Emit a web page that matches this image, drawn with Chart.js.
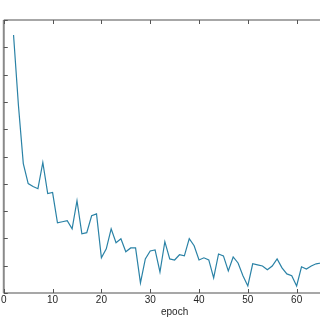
<!DOCTYPE html>
<html>
<head>
<meta charset="utf-8">
<script src="https://cdn.jsdelivr.net/npm/chart.js@4.4.1/dist/chart.umd.min.js"></script>
<style>
    body { margin: 0; overflow: hidden; background: #fff; }
    #wrap { position: relative; width: 354px; height: 320px; margin-left: -1px; }
</style>
</head>
<body>
<div id="wrap"><canvas id="lossChart"></canvas></div>
<script>
// values (y in axis units, labels of y are cropped away)
var epochs = [2, 3, 4, 5, 6, 7, 8, 9, 10, 11, 12, 13, 14, 15, 16, 17, 18, 19, 20,
    21, 22, 23, 24, 25, 26, 27, 28, 29, 30, 31, 32, 33, 34, 35, 36, 37, 38, 39, 40,
    41, 42, 43, 44, 45, 46, 47, 48, 49, 50, 51, 52, 53, 54, 55, 56, 57, 58, 59, 60,
    61, 62, 63, 64, 65];
var loss = [9.45, 6.88, 4.74, 4.01, 3.90, 3.82, 4.78, 3.64, 3.68, 2.57, 2.61, 2.65, 2.35, 3.38, 2.17, 2.21, 2.83, 2.90, 1.29,
    1.62, 2.35, 1.84, 1.99, 1.51, 1.65, 1.65, 0.37, 1.25, 1.54, 1.58, 0.77, 1.88, 1.25, 1.21, 1.40, 1.36, 1.99, 1.73, 1.21,
    1.29, 1.21, 0.55, 1.43, 1.36, 0.81, 1.32, 1.10, 0.63, 0.26, 1.07, 1.03, 0.99, 0.85, 0.99, 1.25, 0.92, 0.70, 0.63, 0.26,
    0.96, 0.88, 0.99, 1.07, 1.10];
var xTickLabels = [0, 10, 20, 30, 40, 50, 60, 70];
var yTickValues = [0, 1, 2, 3, 4, 5, 6, 7, 8, 9, 10];

var points = epochs.map(function (e, i) {
    return {x: e, y: loss[i]};
});

// matlab-like box with inward ticks
var boxPlugin = {
    id: 'boxPlugin',
    afterDraw: function (chart) {
        var ctx = chart.ctx;
        var a = chart.chartArea;
        var xs = chart.scales.x;
        var ys = chart.scales.y;
        ctx.save();
        ctx.strokeStyle = '#8a8a8a';
        ctx.lineWidth = 1.3;
        ctx.beginPath();
        ctx.moveTo(a.left, a.top);
        ctx.lineTo(a.right, a.top);
        ctx.moveTo(a.left, a.bottom);
        ctx.lineTo(a.right, a.bottom);
        ctx.stroke();
        ctx.lineWidth = 2;
        ctx.beginPath();
        ctx.moveTo(a.left, a.top);
        ctx.lineTo(a.left, a.bottom);
        ctx.stroke();

        ctx.strokeStyle = '#555';
        ctx.lineWidth = 1;
        ctx.beginPath();
        xTickLabels.forEach(function (v) {
            var px = Math.round(xs.getPixelForValue(v)) + 0.5;
            ctx.moveTo(px, a.top);
            ctx.lineTo(px, a.top + 4);
            ctx.moveTo(px, a.bottom);
            ctx.lineTo(px, a.bottom - 4);
        });
        yTickValues.forEach(function (v) {
            var py = Math.round(ys.getPixelForValue(v)) + 0.5;
            ctx.moveTo(a.left, py);
            ctx.lineTo(a.left + 4, py);
        });
        ctx.stroke();
        ctx.restore();
    }
};

var ctx = document.getElementById('lossChart');
var lossChart = new Chart(ctx, {
    type: 'line',
    data: {
        datasets: [{
            label: 'loss',
            data: points,
            borderColor: '#2a82a6',
            borderWidth: 1.2,
            pointRadius: 0,
            tension: 0,
            fill: false
        }]
    },
    options: {
        responsive: true,
        maintainAspectRatio: false,
        animation: false,
        layout: {
            padding: {left: 0, top: 20, right: 0, bottom: 0}
        },
        plugins: {
            legend: {display: false},
            tooltip: {enabled: false}
        },
        scales: {
            x: {
                type: 'linear',
                min: 0,
                max: 70,
                afterBuildTicks: function (scale) {
                    scale.ticks = xTickLabels.map(function (v) { return {value: v}; });
                },
                grid: {display: false, drawTicks: false},
                border: {display: false},
                ticks: {
                    color: '#262626',
                    font: {family: 'Liberation Sans', size: 10, lineHeight: 1},
                    padding: 2,
                    maxRotation: 0
                },
                title: {
                    display: true,
                    text: 'epoch',
                    color: '#262626',
                    font: {family: 'Liberation Sans', size: 10, lineHeight: 1},
                    padding: {top: 0, bottom: 3}
                }
            },
            y: {
                display: false,
                min: 0,
                max: 10,
                ticks: {stepSize: 1}
            }
        }
    },
    plugins: [boxPlugin]
});
</script>
</body>
</html>
